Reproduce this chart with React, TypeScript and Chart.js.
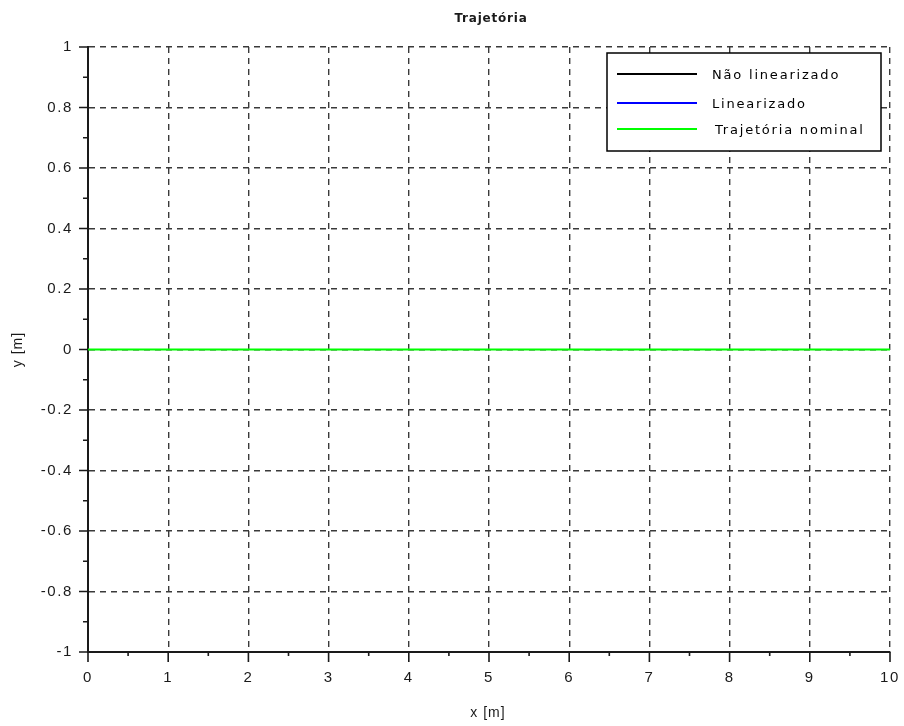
import { useEffect, useRef } from "react";
import { Chart, registerables } from "chart.js";

Chart.register(...registerables);

// Trajectory samples (x in metres) and the three series plotted against them
const xPositions = [0, 10];
const naoLinearizado = [0, 0];
const linearizado = [0, 0];
const trajetoriaNominal = [0, 0];

// Axis ticks
const xTickValues = [0, 1, 2, 3, 4, 5, 6, 7, 8, 9, 10];
const yTickValues = [-1, -0.8, -0.6, -0.4, -0.2, 0, 0.2, 0.4, 0.6, 0.8, 1];

// Labels
const chartTitle = "Trajetória";
const xAxisTitle = "x [m]";
const yAxisTitle = "y [m]";
const seriesNames = ["Não linearizado", "Linearizado", "Trajetória nominal"];
const seriesColors = ["#000000", "#0000ff", "#00ff00"];
const seriesWidths = [1, 1, 2];

const TEXT_COLOR = "#1a1a1a";

const toPoints = (ys: number[]) => ys.map((y, i) => ({ x: xPositions[i], y }));

// Title, axis titles, minor/major tick marks and the boxed legend
const plotDecor = {
  id: "plotDecor",
  beforeDraw(chart: any) {
    chart.ctx.letterSpacing = "1.6px";
  },
  afterDraw(chart: any) {
    const { ctx, chartArea: a, scales } = chart;
    const xs = scales.x;
    const ys = scales.y;
    ctx.save();

    // tick marks (outward), majors and minors
    ctx.strokeStyle = "#1a1a1a";
    ctx.lineWidth = 1.6;
    ctx.setLineDash([]);
    ctx.beginPath();
    yTickValues.forEach((v, i) => {
      const py = ys.getPixelForValue(v);
      ctx.moveTo(a.left - 9, py);
      ctx.lineTo(a.left, py);
      if (i < yTickValues.length - 1) {
        const pm = ys.getPixelForValue((v + yTickValues[i + 1]) / 2);
        ctx.moveTo(a.left - 5, pm);
        ctx.lineTo(a.left, pm);
      }
    });
    xTickValues.forEach((v, i) => {
      const px = xs.getPixelForValue(v);
      ctx.moveTo(px, a.bottom);
      ctx.lineTo(px, a.bottom + 10);
      if (i < xTickValues.length - 1) {
        const pm = xs.getPixelForValue((v + xTickValues[i + 1]) / 2);
        ctx.moveTo(pm, a.bottom);
        ctx.lineTo(pm, a.bottom + 4);
      }
    });
    ctx.stroke();

    // chart title
    ctx.fillStyle = TEXT_COLOR;
    ctx.letterSpacing = "0.8px";
    ctx.font = "bold 12px 'DejaVu Sans'";
    ctx.textAlign = "center";
    ctx.textBaseline = "alphabetic";
    ctx.fillText(chartTitle, (a.left + a.right) / 2 + 2, 21.5);

    // axis titles
    ctx.letterSpacing = "1px";
    ctx.font = "14px 'Liberation Sans'";
    ctx.textBaseline = "middle";
    ctx.fillText(xAxisTitle, (a.left + a.right) / 2 - 1, a.bottom + 61);
    ctx.save();
    ctx.translate(18, (a.top + a.bottom) / 2);
    ctx.rotate(-Math.PI / 2);
    ctx.fillText(yAxisTitle, 0, 0);
    ctx.restore();

    // legend box
    const bx = a.right - 283;
    const by = a.top + 6;
    const bw = 274;
    const bh = 98;
    ctx.fillStyle = "#ffffff";
    ctx.fillRect(bx, by, bw, bh);
    ctx.strokeStyle = "#000000";
    ctx.lineWidth = 1.5;
    ctx.strokeRect(bx, by, bw, bh);

    ctx.font = "13px 'DejaVu Sans'";
    ctx.letterSpacing = "1.8px";
    ctx.textAlign = "left";
    ctx.textBaseline = "alphabetic";
    const rows = [21, 50, 76];
    seriesNames.forEach((name, i) => {
      const ly = by + rows[i];
      ctx.strokeStyle = seriesColors[i];
      ctx.lineWidth = 1.8;
      ctx.beginPath();
      ctx.moveTo(bx + 10, ly);
      ctx.lineTo(bx + 90, ly);
      ctx.stroke();
      ctx.fillStyle = "#000000";
      ctx.fillText(name, bx + 105 + (i === 2 ? 3 : 0), ly + 4.5);
    });

    ctx.restore();
  },
};

export default function App() {
  const canvasRef = useRef<HTMLCanvasElement | null>(null);

  useEffect(() => {
    const canvas = canvasRef.current;
    if (!canvas) return;

    // later series are drawn on top of earlier ones
    const datasets = [naoLinearizado, linearizado, trajetoriaNominal].map((ys, i) => ({
      label: seriesNames[i],
      data: toPoints(ys),
      borderColor: seriesColors[i],
      backgroundColor: seriesColors[i],
      borderWidth: seriesWidths[i],
      pointRadius: 0,
      fill: false,
      tension: 0,
      order: 2 - i,
    }));

    const tickFont = { family: "'Liberation Sans'", size: 15 };

    const chart = new Chart(canvas, {
      type: "line",
      data: { datasets },
      options: {
        animation: false,
        responsive: true,
        maintainAspectRatio: false,
        layout: { padding: { top: 47, right: 14, left: 0, bottom: 0 } },
        plugins: {
          legend: { display: false },
          title: { display: false },
          tooltip: { enabled: false },
        },
        scales: {
          x: {
            type: "linear",
            min: 0,
            max: 10,
            afterBuildTicks: (scale: any) => {
              scale.ticks = xTickValues.map((v) => ({ value: v }));
            },
            afterFit: (scale: any) => {
              scale.height = 74;
              scale.paddingLeft = 0;
              scale.paddingRight = 0;
            },
            ticks: {
              font: tickFont,
              color: TEXT_COLOR,
              padding: 17,
              maxRotation: 0,
              autoSkip: false,
              callback: (v: any) => String(v),
            },
            grid: {
              color: "#3a3a3a",
              lineWidth: 1.4,
              drawTicks: false,
            },
            border: { display: true, color: "#1a1a1a", width: 2, dash: [6, 5] },
          },
          y: {
            type: "linear",
            min: -1,
            max: 1,
            afterBuildTicks: (scale: any) => {
              scale.ticks = yTickValues.map((v) => ({ value: v }));
            },
            afterFit: (scale: any) => {
              scale.width = 88;
              scale.paddingTop = 0;
              scale.paddingBottom = 0;
            },
            ticks: {
              font: tickFont,
              color: TEXT_COLOR,
              padding: 15,
              autoSkip: false,
              callback: (v: any) => String(Number(Number(v).toFixed(1))),
            },
            grid: {
              color: "#3a3a3a",
              lineWidth: 1.4,
              drawTicks: false,
            },
            border: { display: true, color: "#1a1a1a", width: 2, dash: [6, 5] },
          },
        },
      },
      plugins: [plotDecor],
    });

    return () => chart.destroy();
  }, []);

  return (
    <div style={{ position: "absolute", left: 0, top: 0, width: 904, height: 726, background: "#ffffff" }}>
      <canvas ref={canvasRef} />
    </div>
  );
}
